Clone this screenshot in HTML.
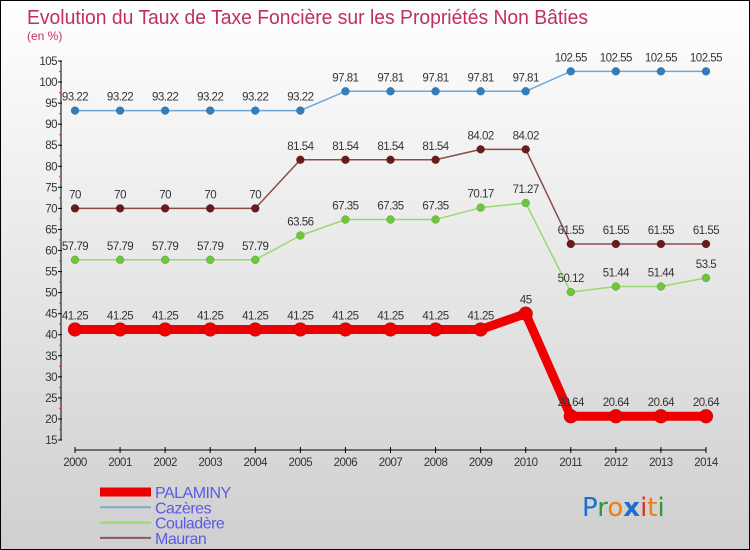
<!DOCTYPE html>
<html><head><meta charset="utf-8"><style>
body{margin:0;}
svg{display:block;font-family:"Liberation Sans","DejaVu Sans",sans-serif;}
</style></head><body>
<svg id="chart" width="750" height="550" viewBox="0 0 750 550" xmlns="http://www.w3.org/2000/svg">
<defs>
<linearGradient id="bg" x1="0" y1="0" x2="0" y2="1"><stop offset="0" stop-color="#ffffff"/><stop offset="1" stop-color="#cfcfcf"/></linearGradient>
</defs>
<rect x="0.5" y="0.5" width="749" height="549" fill="url(#bg)" stroke="#000"/>
<text x="27" y="24" font-size="20" fill="#c0305a" textLength="561" lengthAdjust="spacingAndGlyphs">Evolution du Taux de Taxe Foncière sur les Propriétés Non Bâties</text>
<text x="27" y="40" font-size="12" fill="#c0305a">(en %)</text>
<g id="axes"></g>
<g id="series"></g>
<g id="legend"></g>
<g font-size="26" font-family="'DejaVu Sans',sans-serif">
<text x="582" y="516"><tspan fill="#1a6fd0">P</tspan><tspan fill="#2a9a3a">r</tspan><tspan fill="#f07d10">o</tspan><tspan fill="#1a6fd0" font-weight="bold">x</tspan><tspan fill="#e03020">i</tspan><tspan fill="#f07d10">t</tspan><tspan fill="#2a9a3a">i</tspan></text>
</g>
</svg>
<script>
const years=[2000,2001,2002,2003,2004,2005,2006,2007,2008,2009,2010,2011,2012,2013,2014];
const yTicks=[15,20,25,30,35,40,45,50,55,60,65,70,75,80,85,90,95,100,105];
const palaminy=[41.25,41.25,41.25,41.25,41.25,41.25,41.25,41.25,41.25,41.25,45,20.64,20.64,20.64,20.64];
const cazeres=[93.22,93.22,93.22,93.22,93.22,93.22,97.81,97.81,97.81,97.81,97.81,102.55,102.55,102.55,102.55];
const couladere=[57.79,57.79,57.79,57.79,57.79,63.56,67.35,67.35,67.35,70.17,71.27,50.12,51.44,51.44,53.5];
const mauran=[70,70,70,70,70,81.54,81.54,81.54,81.54,84.02,84.02,61.55,61.55,61.55,61.55];
const palLabels=["41.25","41.25","41.25","41.25","41.25","41.25","41.25","41.25","41.25","41.25","45","20.64","20.64","20.64","20.64"];
const cazLabels=["93.22","93.22","93.22","93.22","93.22","93.22","97.81","97.81","97.81","97.81","97.81","102.55","102.55","102.55","102.55"];
const couLabels=["57.79","57.79","57.79","57.79","57.79","63.56","67.35","67.35","67.35","70.17","71.27","50.12","51.44","51.44","53.5"];
const mauLabels=["70","70","70","70","70","81.54","81.54","81.54","81.54","84.02","84.02","61.55","61.55","61.55","61.55"];

const NS="http://www.w3.org/2000/svg";
const xS=i=>75+i*(631/14);
const yS=v=>440-(v-15)*(379/90);
function mk(tag,attrs,parent){const e=document.createElementNS(NS,tag);for(const k in attrs)e.setAttribute(k,attrs[k]);parent.appendChild(e);return e;}
const axes=document.getElementById('axes');
const yAxis=mk('line',{x1:61,y1:yS(105),x2:61,y2:yS(15),stroke:'#000','stroke-width':1},axes);


yTicks.forEach((t,i)=>{
  const y=yS(t);
  const tk=mk('line',{x1:58,y1:y,x2:62,y2:y,stroke:'#000'},axes);
  
  
  if(i<yTicks.length-1){const m=mk('line',{x1:59,y1:yS(t+2.5),x2:61,y2:yS(t+2.5),stroke:'#e03030'},axes);
  
  }
  const tx=mk('text',{x:57,y:y+4,'text-anchor':'end','font-size':11.5,fill:'#333','letter-spacing':'-0.5'},axes);
  tx.textContent=t;
  
  
});
const xAxis=mk('line',{x1:xS(0),y1:450,x2:xS(years.length-1),y2:450,stroke:'#000'},axes);


years.forEach((yr,i)=>{
  const x=xS(i);
  const tk=mk('line',{x1:x,y1:447,x2:x,y2:453,stroke:'#000'},axes);
  
  
  const tx=mk('text',{x:x,y:466,'text-anchor':'middle','font-size':11.5,fill:'#333','letter-spacing':'-0.5'},axes);
  tx.textContent=yr;
  
  
});
const series=document.getElementById('series');
function drawSeries(vals,labels,color,dot,w,r,name){
  const g=mk('g',{},series);
  
  
  const pts=vals.map((v,i)=>xS(i)+','+yS(v)).join(' ');
  const pl=mk('polyline',{points:pts,fill:'none',stroke:color,'stroke-width':w,'stroke-linejoin':'round'},g);
  
  
  vals.forEach((v,i)=>{
    const c=mk('circle',{cx:xS(i),cy:yS(v),r:r,fill:dot,stroke:'rgba(0,0,0,0.25)','stroke-width':0.5},g);
    
    
    const t=mk('text',{x:xS(i),y:yS(v)-10,'text-anchor':'middle','font-size':11.5,fill:'#333','letter-spacing':'-0.5'},g);
    t.textContent=labels[i];
    
    
  });
}
drawSeries(cazeres,cazLabels,'#6fa8d8','#2f7fc0',1.5,4,'cazeres');
drawSeries(mauran,mauLabels,'#8b4a4a','#6b1a1a',1.5,4,'mauran');
drawSeries(couladere,couLabels,'#9ad870','#6cc83a',1.5,4,'couladere');
drawSeries(palaminy,palLabels,'#ee0000','#ee0000',9,7,'palaminy');
const legend=document.getElementById('legend');
const items=[['PALAMINY','#ee0000',9],['Cazères','#7aaad0',2],['Couladère','#9ad870',2],['Mauran','#8b5a5a',2]];
items.forEach((it,i)=>{
  const y=492+i*15.3;
  const ln=mk('line',{x1:100,y1:y,x2:151,y2:y,stroke:it[1],'stroke-width':it[2]},legend);
  
  
  const tx=mk('text',{x:155,y:y+6,'font-size':16,fill:'#5a5ae8','letter-spacing':'-0.5'},legend);
  tx.textContent=it[0];
  
  
});
</script>
</body></html>
